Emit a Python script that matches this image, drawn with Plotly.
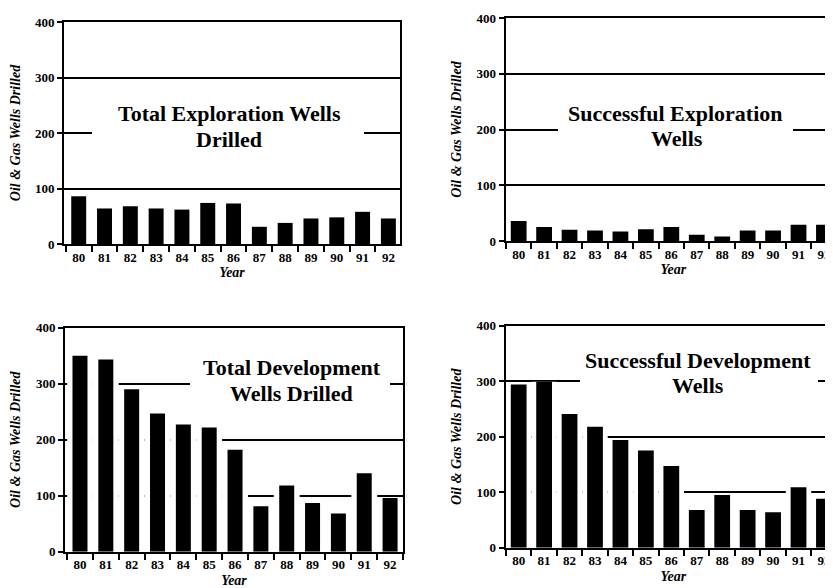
import plotly.graph_objects as go

years = ["80", "81", "82", "83", "84", "85", "86", "87", "88", "89", "90", "91", "92"]
total_exploration = [86, 64, 68, 64, 62, 74, 73, 31, 38, 46, 48, 58, 46]
successful_exploration = [36, 25, 20, 19, 17, 21, 25, 11, 8, 19, 19, 29, 29]
total_development = [350, 343, 290, 247, 227, 222, 182, 81, 118, 87, 68, 140, 96]
successful_development = [294, 299, 241, 218, 194, 175, 147, 68, 95, 68, 64, 109, 88]

panel_titles = [("Total Exploration Wells", "Drilled"),
                ("Successful Exploration", "Wells"),
                ("Total Development", "Wells Drilled"),
                ("Successful Development", "Wells")]
y_title = "Oil & Gas Wells Drilled"
x_title = "Year"

W, H = 833, 588
OFF = 8  # page body margin


def fx(px):
    return (px - OFF) / W


def fy(py):
    return 1 - (py - OFF) / H


# layout geometry in screen pixels
panels = [
    dict(vals=total_exploration, xd=(64, 400), yd=(22, 244), rng=(-0.57, 12.45), bw=0.58,
         l1=(229, 114), l2=(228.5, 139.8), box=(92, 364, 100, 152), mirror_y=True),
    dict(vals=successful_exploration, xd=(505.7, 841), yd=(18, 241), rng=(-0.51, 12.67), bw=0.62,
         l1=(675, 113.3), l2=(677, 138.7), box=(558, 793, 100, 152), mirror_y=False),
    dict(vals=total_development, xd=(65, 403), yd=(327.7, 551.7), rng=(-0.58, 12.5), bw=0.58,
         l1=(291.5, 367.5), l2=(291.5, 393.3), box=(190, 390, 352, 406), mirror_y=True),
    dict(vals=successful_development, xd=(505.7, 841), yd=(325.7, 547.7), rng=(-0.51, 12.67), bw=0.62,
         l1=(697.5, 360.8), l2=(697.5, 385.8), box=(580, 818, 348, 400), mirror_y=False),
]

serif = "Liberation Serif"
fig = go.Figure()
layout = dict(
    width=W, height=H, margin=dict(l=0, r=0, t=0, b=0, autoexpand=False),
    paper_bgcolor="white", plot_bgcolor="white",
    barmode="overlay", showlegend=False, annotations=[], shapes=[],
)

for i, p in enumerate(panels):
    s = "" if i == 0 else str(i + 1)
    # white full-slot mask hides gridlines inside slots where the bar rises above them
    fig.add_bar(x=years, y=p["vals"], width=1.0, marker=dict(color="white", line=dict(width=0)),
                xaxis="x" + s, yaxis="y" + s, hoverinfo="skip")
    fig.add_bar(x=years, y=p["vals"], width=p["bw"], marker=dict(color="black", line=dict(width=0)),
                xaxis="x" + s, yaxis="y" + s)
    layout["xaxis" + s] = dict(
        domain=[max(fx(p["xd"][0]), 0), min(fx(p["xd"][1]), 1.0)],
        anchor="y" + s, type="category", range=list(p["rng"]), automargin=False,
        tickson="boundaries", ticks="outside", ticklen=6, tickwidth=2, tickcolor="black",
        showline=True, linewidth=2, linecolor="black", mirror=True, showgrid=False,
        tickfont=dict(family=serif, size=13, color="black", weight="bold"),
        title=dict(text=x_title, standoff=4,
                   font=dict(family=serif, size=14, color="black", weight="bold", style="italic")),
    )
    layout["yaxis" + s] = dict(
        domain=[fy(p["yd"][1]), fy(p["yd"][0])],
        anchor="x" + s, range=[0, 400], dtick=100, automargin=False,
        ticks="outside", ticklen=5, tickwidth=2, tickcolor="black",
        showline=True, linewidth=2, linecolor="black", mirror=p["mirror_y"],
        showgrid=True, gridcolor="black", gridwidth=1.8, zeroline=False,
        tickfont=dict(family=serif, size=13, color="black", weight="bold"),
        title=dict(text=y_title, standoff=12,
                   font=dict(family=serif, size=14, color="black", weight="bold", style="italic")),
    )
    bx0, bx1, by0, by1 = p["box"]
    layout["shapes"].append(dict(
        type="rect", xref="paper", yref="paper", layer="above",
        x0=fx(bx0), x1=fx(bx1), y0=fy(by1), y1=fy(by0),
        fillcolor="white", line=dict(width=0),
    ))
    for line_text, (lx, ly) in zip(panel_titles[i], (p["l1"], p["l2"])):
        layout["annotations"].append(dict(
            text=line_text, xref="paper", yref="paper",
            x=fx(lx), y=fy(ly), xanchor="center", yanchor="middle",
            showarrow=False, align="center",
            font=dict(family=serif, size=22, color="black", weight="bold"),
        ))

fig.update_layout(**layout)
fig.write_html("out.html")
